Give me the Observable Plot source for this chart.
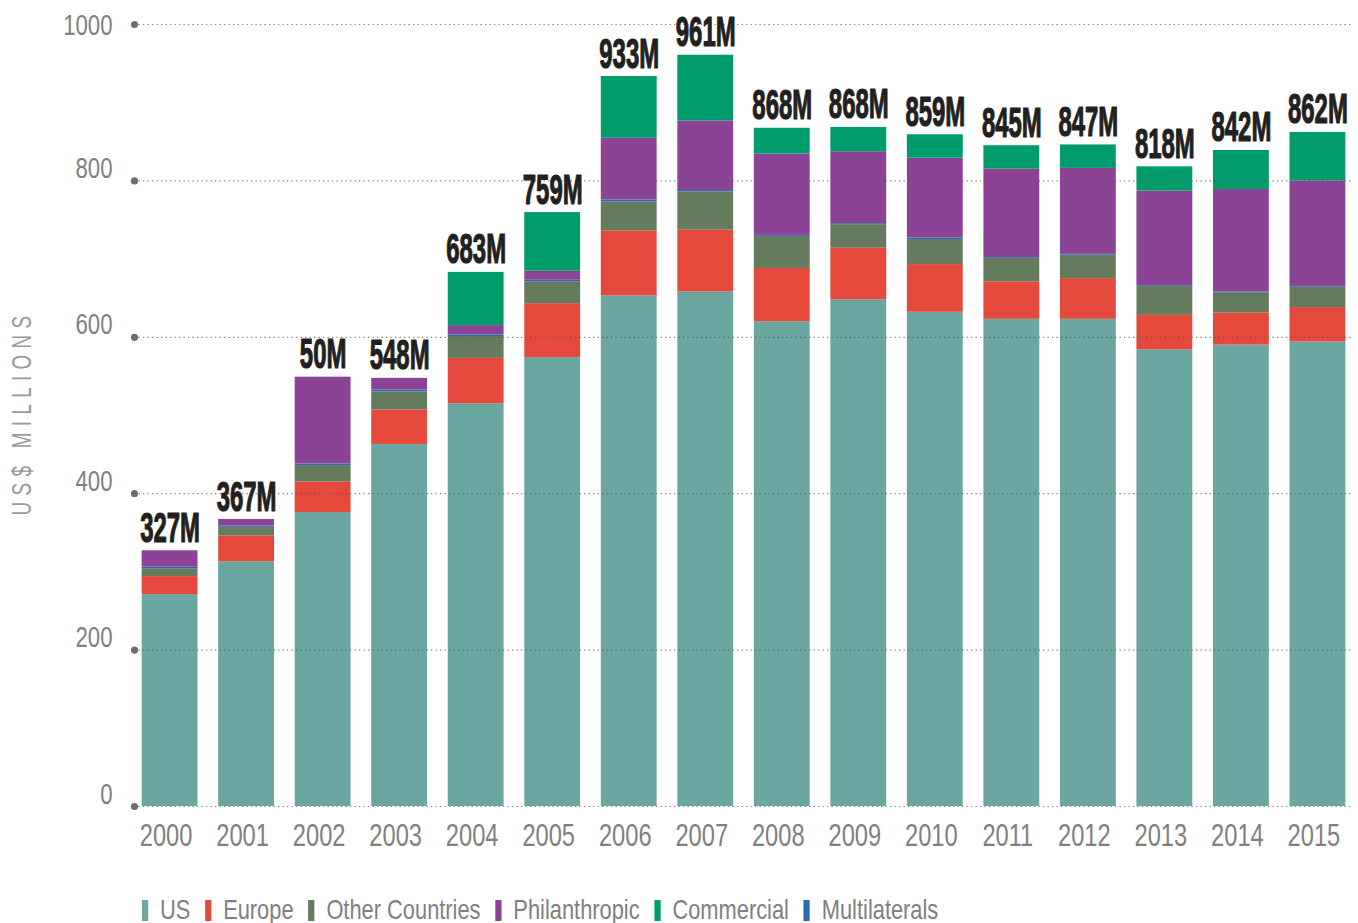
<!DOCTYPE html>
<html>
<head>
<meta charset="utf-8">
<script src="https://cdn.jsdelivr.net/npm/d3@7"></script>
<script src="https://cdn.jsdelivr.net/npm/@observablehq/plot@0.6"></script>
<style>
  body { margin: 0; background: #fff; }
  #legend { display: flex; align-items: center; padding-left: 182px; margin-top: 31px;
    font-family: 'Liberation Sans', Arial, sans-serif; font-size: 28px;
    color: #808080; line-height: 28px; transform: scaleX(0.78); transform-origin: 0 0;
    width: 1700px; white-space: nowrap; }
  .item { display: flex; align-items: center; margin-right: 19px; }
  .sw { width: 7.7px; height: 21px; margin-right: 15.4px; }
</style>
</head>
<body>
<div id="chart"></div>
<div id="legend"></div>
<script>
// ---- data ----
const years = ["2000","2001","2002","2003","2004","2005","2006","2007","2008","2009","2010","2011","2012","2013","2014","2015"];
const us            = [271, 313, 376, 463, 515, 574, 653, 658, 620, 648, 632, 623, 623, 584, 590, 594];
const europe        = [23, 33, 39, 44, 58, 69, 83, 79, 68, 66, 61, 48, 52, 44, 41, 44];
const otherCountries= [10, 11, 21, 23, 28, 28, 37, 49, 41, 30, 32, 30, 30, 37, 26, 26];
const multilaterals = [2, 1.5, 2, 2.5, 2, 2, 2.5, 1.7, 1.3, 1.3, 2, 1, 1, 1, 1, 1];
const philanthropic = [21, 8.5, 111, 15, 12, 11.5, 79, 89, 104, 92, 102, 113, 110, 121, 131, 135];
const commercial    = [0, 0, 0, 0, 68, 75, 79, 84, 33, 31, 30, 30, 30, 31, 50, 62];
const totalLabels = ["327M","367M","50M","548M","683M","759M","933M","961M","868M","868M","859M","845M","847M","818M","842M","862M"];
const yTicks = [0, 200, 400, 600, 800, 1000];
const yTitle = "US$ MILLIONS";

const legendNames = ["US","Europe","Other Countries","Philanthropic","Commercial","Multilaterals"];
const legendColors = ["#6ca6a0","#e5493c","#647b5d","#8b4495","#009c6c","#2b6cb0"];
const stackOrder = ["US","Europe","Other Countries","Multilaterals","Philanthropic","Commercial"];

// ---- build tables ----
const seriesLists = [
  ["US", us], ["Europe", europe], ["Other Countries", otherCountries],
  ["Multilaterals", multilaterals], ["Philanthropic", philanthropic], ["Commercial", commercial]
];
const rows = [];
years.forEach((yr, i) => seriesLists.forEach(([s, arr]) => rows.push({year: yr, series: s, value: arr[i]})));
const totals = years.map((yr, i) => ({
  year: yr,
  total: seriesLists.reduce((a, [, arr]) => a + arr[i], 0),
  label: totalLabels[i]
}));

const font = "'Liberation Sans', Arial, sans-serif";

const plot = Plot.plot({
  width: 1358, height: 865,
  marginTop: 24, marginBottom: 59, marginLeft: 134, marginRight: 5,
  style: {fontFamily: font, color: "#808080", background: "#fff", overflow: "visible"},
  x: {domain: years, paddingInner: 0.27, paddingOuter: 0.1, round: false},
  y: {domain: [0, 1000], axis: null},
  color: {domain: legendNames, range: legendColors},
  marks: [
    Plot.barY(rows, {x: "year", y: "value", fill: "series", order: stackOrder}),
    Plot.ruleY(yTicks, {stroke: "#5a5a5a", strokeDasharray: "1.3,3.2", strokeWidth: 1.2, strokeOpacity: 0.75}),
    Plot.dot(yTicks, {y: d => d, frameAnchor: "left", r: 3.6, fill: "#6e6e6e"}),
    Plot.text(yTicks.filter(t => t < 1000), {y: d => d, text: d => String(d), frameAnchor: "left",
      textAnchor: "end", lineAnchor: "bottom", dx: -22, dy: -3, fontSize: 30, fill: "#808080"}),
    Plot.text(yTicks.filter(t => t === 1000), {y: d => d, text: d => String(d), frameAnchor: "left",
      textAnchor: "end", lineAnchor: "middle", dx: -22, dy: 1, fontSize: 30, fill: "#808080"}),
    Plot.text([yTitle], {text: d => d, frameAnchor: "left", textAnchor: "middle", dx: -112, dy: -3, rotate: -90,
      fontSize: 27, fill: "#9a9a9a"}),
    Plot.text(totals, {x: "year", y: "total", text: "label", lineAnchor: "bottom", dy: -9,
      fontSize: 42, fontWeight: "bold", fill: "#231f20", stroke: "#231f20", strokeWidth: 1.2}),
    Plot.axisX({tickSize: 0, tickPadding: 17, fontSize: 32, label: null, dx: -4})
  ]
});

document.getElementById("chart").appendChild(plot);

// condense texts (approximating the condensed display face of the original)
function condense(el, s) {
  const t = el.getAttribute("transform");
  if (t) el.setAttribute("transform", t + ` scale(${s},1)`);
  else {
    const x = +el.getAttribute("x") || 0, y = +el.getAttribute("y") || 0;
    el.removeAttribute("x"); el.removeAttribute("y");
    el.setAttribute("transform", `translate(${x},${y}) scale(${s},1)`);
  }
}
const totalSet = new Set(totalLabels);
const tickSet = new Set([...years, ...yTicks.map(String)]);
d3.select(plot).selectAll("text").each(function() {
  const txt = this.textContent;
  if (totalSet.has(txt)) condense(this, 0.57);
  else if (tickSet.has(txt)) condense(this, 0.74);
  else if (txt === yTitle) {
    this.style.letterSpacing = "9px";
    condense(this, 0.7);
  }
});

// legend
const legend = document.getElementById("legend");
legendNames.forEach((name, i) => {
  const item = document.createElement("div");
  item.className = "item";
  const sw = document.createElement("span");
  sw.className = "sw";
  sw.style.background = legendColors[i];
  const label = document.createElement("span");
  label.textContent = name;
  item.appendChild(sw); item.appendChild(label);
  legend.appendChild(item);
});
</script>
</body>
</html>
